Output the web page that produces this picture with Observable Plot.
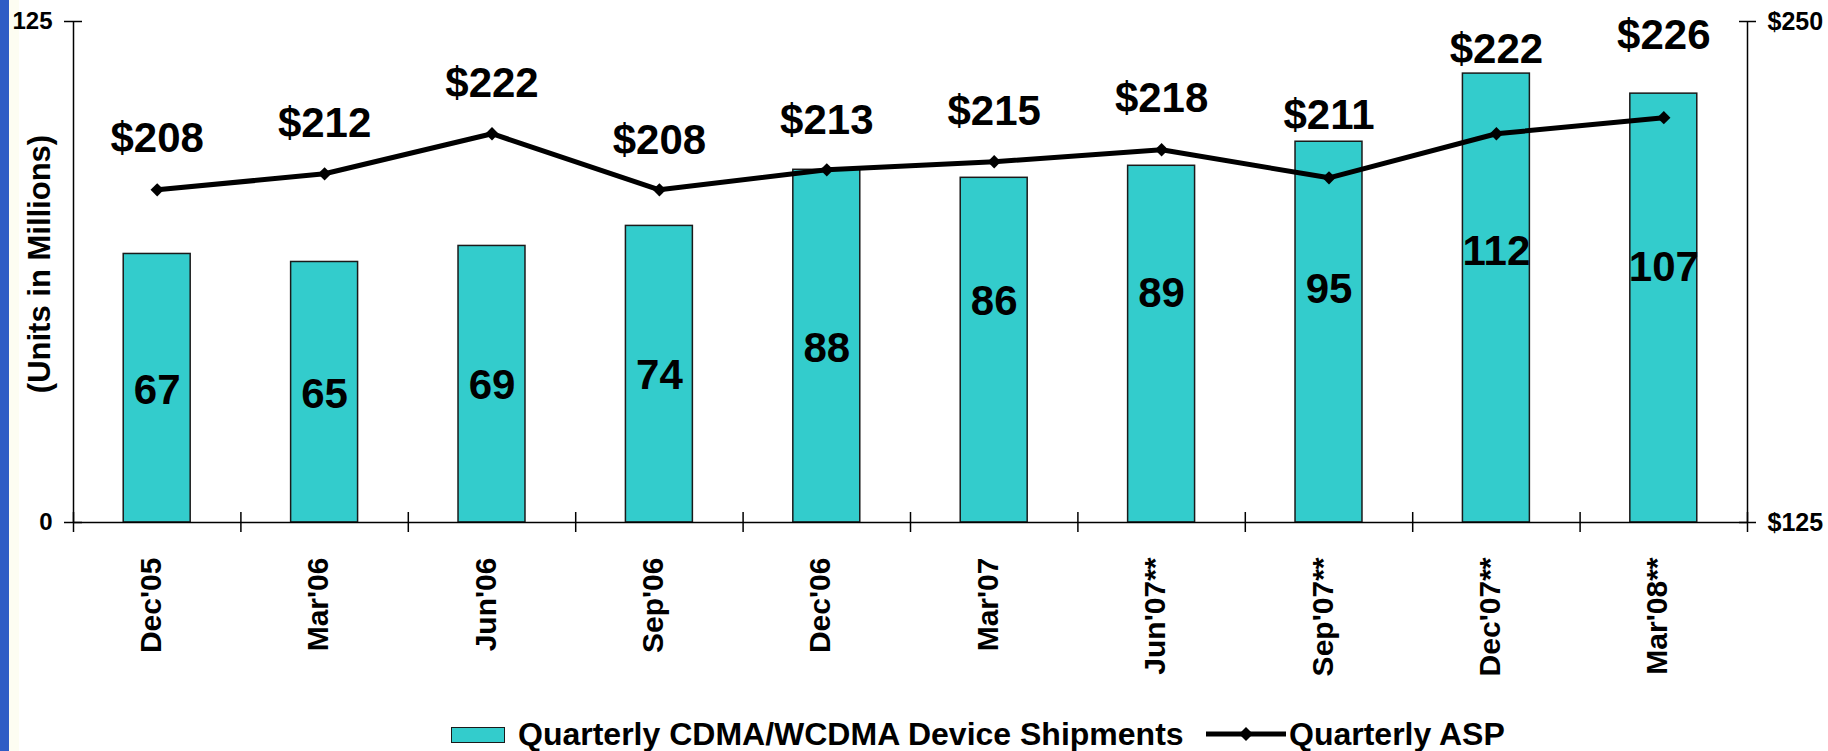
<!DOCTYPE html>
<html>
<head>
<meta charset="utf-8">
<script src="https://cdn.jsdelivr.net/npm/d3@7"></script>
<script src="https://cdn.jsdelivr.net/npm/@observablehq/plot@0.6"></script>
<style>
  html, body { margin: 0; padding: 0; background: #ffffff; }
  body { width: 1828px; height: 751px; position: relative; overflow: hidden;
         font-family: "Liberation Sans", Arial, sans-serif; }
  #stripe { position: absolute; left: 0; top: 0; width: 9px; height: 751px; background: #2E5CC5; }
  #cream { position: absolute; left: 9px; top: 0; width: 10px; height: 751px; background: #FDFDF2; }
  #chart { position: absolute; left: 0; top: 0; }
  .leg { position: absolute; top: 720px; height: 28px; line-height: 28px; font-size: 32px;
         font-weight: bold; color: #000; white-space: nowrap; }
  .sw { position: absolute; }
</style>
</head>
<body>
<div id="stripe"></div>
<div id="cream"></div>
<div id="chart"></div>
<div id="legend"></div>
<script>
const categories = ["Dec'05", "Mar'06", "Jun'06", "Sep'06", "Dec'06", "Mar'07", "Jun'07**", "Sep'07**", "Dec'07**", "Mar'08**"];
const shipments = [67, 65, 69, 74, 88, 86, 89, 95, 112, 107];
const asp = [208, 212, 222, 208, 213, 215, 218, 211, 222, 226];
// where each value label sits, in data units of its own axis
const shipLabelAt = [32.9, 32.0, 34.1, 36.7, 43.4, 55.1, 57.0, 58.1, 67.6, 63.6];
const aspLabelAt = [220.7, 224.6, 234.4, 220.4, 225.4, 227.5, 230.8, 226.5, 242.9, 246.5];
const leftTicks = [0, 125];
const rightTicks = [125, 250];
const yTitle = "(Units in Millions)";
const legendLabels = ["Quarterly CDMA/WCDMA Device Shipments", "Quarterly ASP"];

const BAR = "#33CCCC";
const FONT = "Liberation Sans, Arial, sans-serif";
const aspBase = rightTicks[0]; // right axis maps 125..250 onto 0..125

const data = categories.map((c, i) => ({
  i, c, ship: shipments[i], asp: asp[i], shipAt: shipLabelAt[i], aspAt: aspLabelAt[i]
}));

const chart = Plot.plot({
  width: 1828,
  height: 690,
  marginLeft: 73,
  marginRight: 81,
  marginTop: 21,
  marginBottom: 168,
  style: { fontFamily: FONT, background: "transparent", color: "#000" },
  x: { type: "linear", domain: [0, categories.length] },
  y: { domain: [leftTicks[0], leftTicks[1]] },
  marks: [
    Plot.rect(data, {
      x1: d => d.i + 0.3, x2: d => d.i + 0.7, y1: 0, y2: "ship",
      fill: BAR, stroke: "#1a1a1a", strokeWidth: 1.5
    }),
    Plot.ruleY([0], { stroke: "#000", strokeWidth: 1.5 }),
    Plot.ruleX([0, categories.length], { y1: leftTicks[0], y2: leftTicks[1], stroke: "#000", strokeWidth: 1.5 }),
    Plot.line(data, { x: d => d.i + 0.5, y: d => d.asp - aspBase, stroke: "#000", strokeWidth: 5 }),
    Plot.dot(data, { x: d => d.i + 0.5, y: d => d.asp - aspBase, symbol: "diamond2", r: 6, fill: "#000" }),
    Plot.text(data, {
      x: d => d.i + 0.5, y: "shipAt", text: d => String(d.ship),
      fontSize: 42, fontWeight: "bold", fill: "#000"
    }),
    Plot.text(data, {
      x: d => d.i + 0.5, y: d => d.aspAt - aspBase, text: d => "$" + d.asp,
      fontSize: 42, fontWeight: "bold", fill: "#000"
    }),
    // category boundary ticks crossing the x axis
    Plot.axisX(d3.range(0, categories.length + 1), {
      tickSize: 20, dy: -10, tickFormat: () => "", stroke: "#000", strokeWidth: 1.5
    }),
    // category labels
    Plot.axisX(categories.map((c, i) => i + 0.5), {
      tickSize: 0, tickPadding: 35, tickRotate: -90, dx: -6,
      tickFormat: v => categories[Math.round(v - 0.5)],
      fontSize: 30, fontWeight: "bold", fill: "#000"
    }),
    Plot.axisY(leftTicks, {
      anchor: "left", tickSize: 18, dx: 9, tickPadding: 12,
      fontSize: 24, fontWeight: "bold", fill: "#000", stroke: "#000", strokeWidth: 1.5
    }),
    Plot.axisY(rightTicks.map(v => v - aspBase), {
      anchor: "right", tickSize: 17, dx: -9, tickPadding: 12,
      tickFormat: d => "$" + (d + aspBase),
      fontSize: 25, fontWeight: "bold", fill: "#000", stroke: "#000", strokeWidth: 1.5
    }),
    Plot.text([yTitle], {
      frameAnchor: "left", textAnchor: "middle", rotate: -90, dx: -33, dy: -8,
      text: d => d, fontSize: 31, fontWeight: "bold", fill: "#000"
    })
  ]
});
document.getElementById("chart").appendChild(chart);

// legend
const legend = document.getElementById("legend");
const sw1 = document.createElement("div");
sw1.className = "sw";
Object.assign(sw1.style, {
  left: "451px", top: "727px", width: "52px", height: "14px",
  background: BAR, border: "1.5px solid #1a1a1a"
});
legend.appendChild(sw1);
const t1 = document.createElement("div");
t1.className = "leg";
t1.style.left = "518px";
t1.textContent = legendLabels[0];
legend.appendChild(t1);

const ns = "http://www.w3.org/2000/svg";
const sw2 = document.createElementNS(ns, "svg");
sw2.setAttribute("width", "84");
sw2.setAttribute("height", "20");
sw2.style.position = "absolute";
sw2.style.left = "1204px";
sw2.style.top = "724px";
const ln = document.createElementNS(ns, "line");
ln.setAttribute("x1", "2"); ln.setAttribute("x2", "82");
ln.setAttribute("y1", "10"); ln.setAttribute("y2", "10");
ln.setAttribute("stroke", "#000"); ln.setAttribute("stroke-width", "5");
sw2.appendChild(ln);
const dm = document.createElementNS(ns, "path");
dm.setAttribute("d", "M42,3 L49,10 L42,17 L35,10 Z");
dm.setAttribute("fill", "#000");
sw2.appendChild(dm);
legend.appendChild(sw2);
const t2 = document.createElement("div");
t2.className = "leg";
t2.style.left = "1289px";
t2.textContent = legendLabels[1];
legend.appendChild(t2);
</script>
</body>
</html>
